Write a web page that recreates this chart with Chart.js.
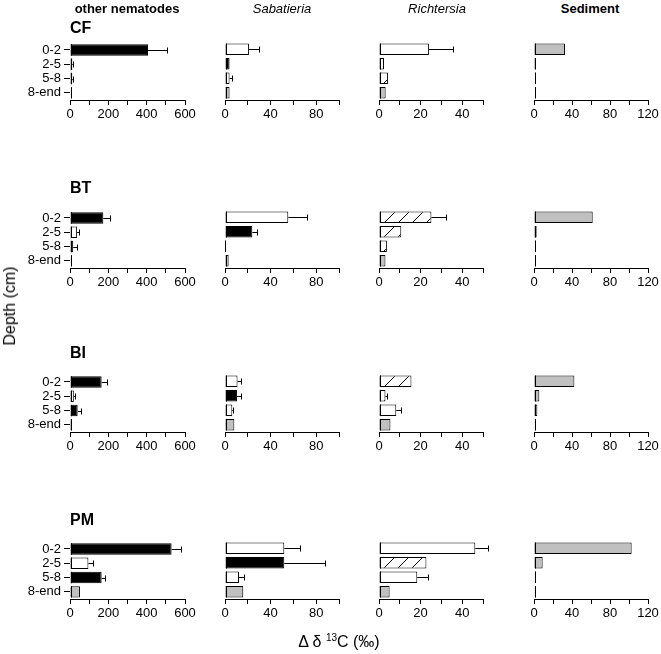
<!DOCTYPE html>
<html>
<head>
<meta charset="utf-8">
<script src="https://cdn.jsdelivr.net/npm/chart.js@4"></script>
<style>
  body { margin: 0; background: #fff; font-family: "Liberation Sans", Arial, sans-serif; }
  #page { position: relative; width: 661px; height: 654px; overflow: hidden; }
  canvas { position: absolute; }
  .lbl { position: absolute; white-space: nowrap; color: #000; transform: translate(-50%, -50%); }
  .row { font-weight: bold; font-size: 16px; transform: translate(0, -50%); }
  sup { font-size: 10px; vertical-align: 6px; }
</style>
</head>
<body>
<div id="page">
  <div class="lbl" style="left:127px; top:8px; font-size:13px; font-weight:bold;">other nematodes</div>
  <div class="lbl" style="left:282px; top:8px; font-size:13px; font-style:italic;">Sabatieria</div>
  <div class="lbl" style="left:437px; top:8px; font-size:13px; font-style:italic;">Richtersia</div>
  <div class="lbl" style="left:590px; top:8px; font-size:13px; font-weight:bold;">Sediment</div>
  <div class="lbl row" style="left:70px; top:28px;">CF</div>
  <div class="lbl row" style="left:70px; top:188px;">BT</div>
  <div class="lbl row" style="left:70px; top:353px;">BI</div>
  <div class="lbl row" style="left:70px; top:520px;">PM</div>
  <div class="lbl" style="left:10px; top:306px; font-size:16px; transform: translate(-50%, -50%) rotate(-90deg);">Depth (cm)</div>
  <div class="lbl" style="left:339px; top:641px; font-size:16px;">Δ δ <sup>13</sup>C (‰)</div>
</div>
<script>
// Categories
const depths = ['0-2', '2-5', '5-8', '8-end'];
const sites = ['CF', 'BT', 'BI', 'PM'];
const groups = ['other nematodes', 'Sabatieria', 'Richtersia', 'Sediment'];

// Axis ranges and tick steps per column
const xMax = [600, 100, 50, 120];
const xStep = [100, 20, 10, 20];

// Values (one row per site, one entry per depth)
const otherNematodes = [[407, 12, 12, 3], [174, 37, 17, 2], [165, 20, 40, 8], [530, 96, 165, 52]];
const otherNematodesErr = [[99, 5, 4, 0], [35, 10, 18, 0], [30, 8, 16, 0], [49, 26, 18, 0]];
const sabatieria = [[21, 4, 4, 4], [55.5, 24, 0, 3.2], [11, 10.5, 6.4, 8.2], [52, 52, 12.3, 16]];
const sabatieriaErr = [[9, 0, 2, 0], [16, 4.5, 0, 0], [3, 3.2, 1, 0], [14, 36, 4.6, 0]];
const richtersia = [[24, 2.4, 4.3, 3.2], [25.2, 10.7, 3.8, 3.1], [15.6, 3.1, 8.3, 5.5], [46.3, 22.8, 18.4, 5.1]];
const richtersiaErr = [[11.6, 0, 0, 0], [6.8, 0, 0, 0], [0, 0.7, 2.4, 0], [6.1, 0, 5.1, 0]];
const sediment = [[32.6, 1.5, 0.5, 0.5], [61.8, 2.8, 0.5, 0.5], [42.5, 5.6, 3.5, 0.3], [102.8, 9.1, 0.3, 0.3]];
const sedimentErr = [[0, 0, 0, 0], [0, 0, 0, 0], [0, 0, 0, 0], [0, 0, 0, 0]];

// Fill codes: k = black, w = white, h = hatched, g = grey
const otherNematodesFill = [['k', 'w', 'k', 'k'], ['k', 'w', 'k', 'k'], ['k', 'w', 'k', 'k'], ['k', 'w', 'k', 'g']];
const sabatieriaFill = [['w', 'k', 'w', 'g'], ['w', 'k', 'w', 'g'], ['w', 'k', 'w', 'g'], ['w', 'k', 'w', 'g']];
const richtersiaFill = [['w', 'h', 'h', 'g'], ['h', 'h', 'h', 'g'], ['h', 'h', 'w', 'g'], ['w', 'h', 'w', 'g']];
const sedimentFill = [['g', 'g', 'g', 'g'], ['g', 'g', 'g', 'g'], ['g', 'g', 'g', 'g'], ['g', 'g', 'g', 'g']];

const values = [otherNematodes, sabatieria, richtersia, sediment];
const errors = [otherNematodesErr, sabatieriaErr, richtersiaErr, sedimentErr];
const fills = [otherNematodesFill, sabatieriaFill, richtersiaFill, sedimentFill];

// Panel placement on the page
const colLeft = [70, 225, 379, 534];
const colWidth = [115, 114, 104, 114];
const rowBottom = [100, 268, 432, 599];
const plotHeight = 58;

const FONT = { family: '"Liberation Sans", Arial, sans-serif', size: 13 };

// Diagonal hatch pattern
function makeHatch() {
    const p = document.createElement('canvas');
    p.width = 14; p.height = 14;
    const g = p.getContext('2d');
    g.fillStyle = '#fff';
    g.fillRect(0, 0, 14, 14);
    g.strokeStyle = '#000';
    g.lineWidth = 1;
    g.beginPath();
    g.moveTo(0, 14); g.lineTo(14, 0);
    g.moveTo(-1, 1); g.lineTo(1, -1);
    g.moveTo(13, 15); g.lineTo(15, 13);
    g.stroke();
    return g.createPattern(p, 'repeat');
}

const fillStyles = { k: '#000000', w: '#ffffff', g: '#c0c0c0', h: makeHatch() };

// Left edge of every bar (keeps near-zero bars visible) and one-sided error bars
const errorBars = {
    id: 'errorBars',
    afterDatasetsDraw(chart, args, opts) {
        const errs = opts.errors || [];
        const meta = chart.getDatasetMeta(0);
        const xs = chart.scales.x;
        const ctx = chart.ctx;
        ctx.save();
        ctx.strokeStyle = '#000';
        ctx.lineWidth = 1;
        meta.data.forEach((bar, i) => {
            const bx = Math.round(bar.base) + 0.5;
            ctx.beginPath();
            ctx.moveTo(bx, bar.y - bar.height / 2);
            ctx.lineTo(bx, bar.y + bar.height / 2);
            ctx.stroke();

            const e = errs[i];
            if (!e) return;
            const v = chart.data.datasets[0].data[i];
            const x0 = xs.getPixelForValue(v);
            const x1 = Math.round(xs.getPixelForValue(v + e)) + 0.5;
            const y = Math.round(bar.y) + 0.5;
            ctx.beginPath();
            ctx.moveTo(x0, y); ctx.lineTo(x1, y);
            ctx.moveTo(x1, y - 3); ctx.lineTo(x1, y + 3);
            ctx.stroke();
        });
        ctx.restore();
    }
};

const page = document.getElementById('page');

sites.forEach((site, r) => {
    groups.forEach((group, c) => {
        const cv = document.createElement('canvas');
        const w = colWidth[c] + 90, h = plotHeight + 40;
        cv.width = w; cv.height = h;
        cv.style.width = w + 'px';
        cv.style.height = h + 'px';
        cv.style.left = (colLeft[c] - 70) + 'px';
        cv.style.top = (rowBottom[r] - plotHeight - 10) + 'px';
        page.insertBefore(cv, page.firstChild);

        const step = xStep[c];
        new Chart(cv.getContext('2d'), {
            type: 'bar',
            data: {
                labels: depths,
                datasets: [{
                    data: values[c][r],
                    backgroundColor: fills[c][r].map(f => fillStyles[f]),
                    borderColor: '#000',
                    borderWidth: 1,
                    borderSkipped: false,
                    barPercentage: 0.8,
                    categoryPercentage: 1
                }]
            },
            options: {
                indexAxis: 'y',
                responsive: false,
                animation: false,
                devicePixelRatio: 1,
                layout: { padding: { left: c === 0 ? 10 : 70, right: 20, top: 10, bottom: 0 } },
                plugins: {
                    legend: { display: false },
                    tooltip: { enabled: false },
                    errorBars: { errors: errors[c][r] }
                },
                scales: {
                    x: {
                        min: 0,
                        max: xMax[c],
                        afterFit: s => { s.height = 30; },
                        border: { color: '#000', width: 1 },
                        grid: { drawOnChartArea: false, color: '#000', tickLength: 5 },
                        ticks: {
                            stepSize: step,
                            autoSkip: false,
                            maxRotation: 0,
                            color: '#000',
                            padding: 2,
                            font: FONT,
                            callback: v => (v % (2 * step) === 0 ? v : '')
                        }
                    },
                    y: {
                        display: c === 0,
                        afterFit: s => { s.width = c === 0 ? 60 : 0; },
                        border: { display: false },
                        grid: { drawOnChartArea: false, offset: false, color: '#000', tickLength: 6 },
                        ticks: { color: '#000', padding: 3, font: FONT, autoSkip: false }
                    }
                }
            },
            plugins: [errorBars]
        });
    });
});
</script>
</body>
</html>
